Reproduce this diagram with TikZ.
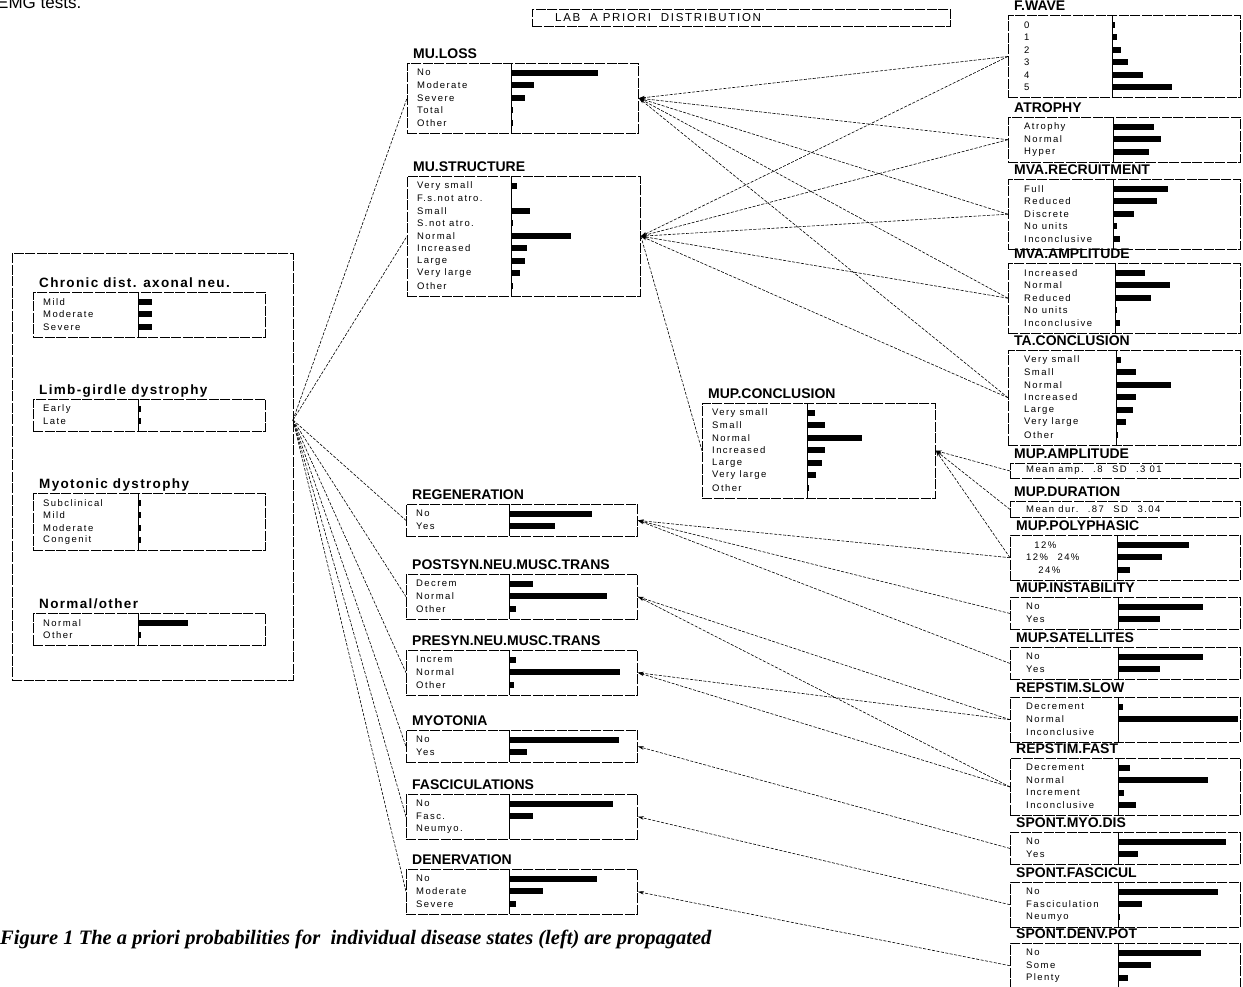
\documentclass[tikz,border=0pt]{standalone}
\usepackage{fontspec}
\setmainfont{Liberation Sans}
\newfontfamily\itemfont[LetterSpace=15]{Liberation Sans}
\newfontfamily\widefont[LetterSpace=10]{Liberation Sans}
\newfontfamily\capfont{Liberation Serif}
\usetikzlibrary{arrows.meta}

\def\labindent{10}
% name, left, top, right, divider, rows, title, label/bar list
\newcommand{\distbox}[8]{%
  \node[frame,anchor=north west,minimum width={(#4-#2)*1pt},minimum height={(7+#6*12.5)*1pt}] (#1) at (#2,#3) {};
  \draw[divider] (#5,#3) -- (#5,{#3+7+#6*12.5});
  \node[boxtitle,anchor=base west] (#1-title) at (#2+6,#3-5) {#7};
  \foreach \lab/\len [count=\i] in {#8}{
    \node[itemlab,anchor=west] (#1-\i) at (#2+\labindent,{#3-2.75+\i*12.5}) {\lab};
    \fill (#5,{#3-2.75+\i*12.5-3.2}) rectangle ++(\len,6.4);
  }
}

\begin{document}
\begin{tikzpicture}[x=1pt,y=-1pt,
  frame/.style={draw,line width=0.9pt,inner sep=0pt,dash pattern=on 10pt off 1.5pt},
  divider/.style={line width=1pt},
  boxtitle/.style={font=\bfseries\fontsize{14}{14}\selectfont,inner sep=0pt},
  itemlab/.style={font=\itemfont\fontsize{9.5}{10}\selectfont,inner sep=0pt},
  link/.style={line width=0.6pt,dash pattern=on 3pt off 1.5pt},
  >={Stealth[length=6pt,width=3.5pt]}]
  \useasboundingbox (0,0) rectangle (1243,986);
  \node[anchor=base west,font=\fontsize{17}{17}\selectfont,inner sep=0pt] (clip) at (-3,8) {EMG tests.};
  \node[frame,anchor=north west,minimum width=418pt,minimum height=17pt] (lab) at (532,9) {};
  \node[itemlab,anchor=west,font=\itemfont\fontsize{11.5}{11.5}\selectfont] (labtext) at (555,17.5) {LAB\ \ A PRIORI\ \ DISTRIBUTION};

  % disease states
  \node[frame,anchor=north west,minimum width=281pt,minimum height=427pt] (disease) at (12,253) {};
  \coordinate (hub) at (293,420);
  \begin{scope}[boxtitle/.append style={font=\widefont\bfseries\fontsize{13.5}{14}\selectfont}]
  \distbox{chronic}{33}{292}{265}{138}{3}{Chronic dist. axonal neu.}{Mild/14,Moderate/14,Severe/14}
  \distbox{limb}{33}{399}{265}{138}{2}{Limb-girdle dystrophy}{Early/3,Late/3}
  \distbox{myodys}{33}{493}{265}{138}{4}{Myotonic dystrophy}{Subclinical/3,Mild/3,Moderate/3,Congenit/3}
  \distbox{normoth}{33}{613}{265}{138}{2}{Normal/other}{Normal/50,Other/3}
  \end{scope}

  % pathophysiological nodes
  \distbox{muloss}{407}{63}{638}{511}{5}{MU.LOSS}{No/87,Moderate/23,Severe/14,Total/2,Other/2}
  \distbox{mustruct}{407}{176}{640}{511}{9}{MU.STRUCTURE}{Very small/6,F.s.not atro./0,Small/19,S.not atro./2,Normal/60,Increased/16,Large/14,Very large/9,Other/2}
  \distbox{mupconcl}{702}{403}{935}{807}{7}{MUP.CONCLUSION}{Very small/8,Small/18,Normal/55,Increased/18,Large/15,Very large/9,Other/2}
  \distbox{regen}{406}{504}{637}{509}{2}{REGENERATION}{No/83,Yes/46}
  \distbox{postsyn}{406}{574}{637}{509}{3}{POSTSYN.NEU.MUSC.TRANS}{Decrem/24,Normal/98,Other/7}
  \distbox{presyn}{406}{650}{637}{509}{3}{PRESYN.NEU.MUSC.TRANS}{Increm/7,Normal/111,Other/5}
  \distbox{myoton}{406}{730}{637}{509}{2}{MYOTONIA}{No/110,Yes/18}
  \distbox{fascic}{406}{794}{637}{509}{3}{FASCICULATIONS}{No/104,Fasc./24,Neumyo./0}
  \distbox{denerv}{406}{869}{637}{509}{3}{DENERVATION}{No/88,Moderate/34,Severe/7}

  % findings
  \def\labindent{16}
  \distbox{fwave}{1008}{15}{1240}{1112}{6}{F.WAVE}{0/3,1/5,2/9,3/16,4/31,5/60}
  \distbox{atrophy}{1008}{117}{1240}{1113}{3}{ATROPHY}{Atrophy/41,Normal/48,Hyper/36}
  \distbox{mvarec}{1008}{179}{1240}{1113}{5}{MVA.RECRUITMENT}{Full/55,Reduced/44,Discrete/21,No units/4,Inconclusive/7}
  \distbox{mvaamp}{1008}{263}{1240}{1115}{5}{MVA.AMPLITUDE}{Increased/30,Normal/55,Reduced/36,No units/2,Inconclusive/5}
  \distbox{taconcl}{1008}{350}{1240}{1116}{7}{TA.CONCLUSION}{Very small/5,Small/20,Normal/55,Increased/20,Large/17,Very large/10,Other/2}
  \node[frame,anchor=north west,minimum width=230pt,minimum height=15pt] (mupamp) at (1010,463) {};
  \node[boxtitle,anchor=base west] (mupamp-title) at (1014,458) {MUP.AMPLITUDE};
  \node[itemlab,anchor=west] (mupamp-1) at (1026,470.5) {Mean amp.\quad .8\quad SD\quad .3 01};
  \node[frame,anchor=north west,minimum width=230pt,minimum height=16pt] (mupdur) at (1010,501) {};
  \node[boxtitle,anchor=base west] (mupdur-title) at (1014,496) {MUP.DURATION};
  \node[itemlab,anchor=west] (mupdur-1) at (1026,509) {Mean dur.\quad .87\quad SD\quad 3.04};
  \distbox{muppoly}{1010}{535}{1240}{1117}{3}{MUP.POLYPHASIC}{\ \ 12\%/72,12\%\quad 24\%/45,\ \ \ 24\%/13}
  \distbox{mupinst}{1010}{597}{1240}{1118}{2}{MUP.INSTABILITY}{No/85,Yes/42}
  \distbox{mupsat}{1010}{647}{1240}{1118}{2}{MUP.SATELLITES}{No/85,Yes/42}
  \distbox{repslow}{1010}{697}{1240}{1118}{3}{REPSTIM.SLOW}{Decrement/5,Normal/120,Inconclusive/1}
  \distbox{repfast}{1010}{758}{1240}{1118}{4}{REPSTIM.FAST}{Decrement/12,Normal/90,Increment/6,Inconclusive/18}
  \distbox{spmyo}{1010}{832}{1240}{1118}{2}{SPONT.MYO.DIS}{No/108,Yes/20}
  \distbox{spfasc}{1010}{882}{1240}{1118}{3}{SPONT.FASCICUL}{No/100,Fasciculation/24,Neumyo/2}
  \distbox{spdenv}{1010}{943}{1240}{1118}{3}{SPONT.DENV.POT}{No/83,Some/33,Plenty/10}

  % links
  \foreach \b in {muloss,mustruct,regen,postsyn,presyn,myoton,fascic,denerv}
    \draw[link] (hub) -- (\b.west);
  \foreach \a/\b in {muloss/fwave,muloss/atrophy,muloss/mvarec,muloss/mvaamp,muloss/taconcl,
      mustruct/fwave,mustruct/atrophy,mustruct/mvarec,mustruct/mvaamp,mustruct/taconcl,
      mupconcl/mupamp,mupconcl/mupdur,mupconcl/muppoly,
      regen/muppoly,regen/mupinst,regen/mupsat,
      postsyn/repslow,postsyn/repfast,presyn/repslow,presyn/repfast,
      myoton/spmyo,fascic/spfasc,denerv/spdenv}
    \draw[link,->] (\b.west) -- (\a.east);
  \draw[link] (mustruct.east) -- (mupconcl.west);

  \node[anchor=base west,inner sep=0pt,font=\capfont\bfseries\itshape\fontsize{20.5}{20.5}\selectfont] (caption) at (0,944) {Figure 1 The a priori probabilities for\ \ individual disease states (left) are propagated};
\end{tikzpicture}
\end{document}
